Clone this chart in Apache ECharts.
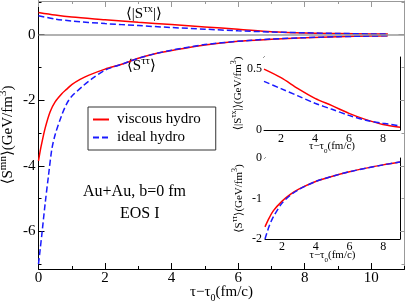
<!DOCTYPE html>
<html><head><meta charset="utf-8">
<script src="https://cdn.jsdelivr.net/npm/echarts@6/dist/echarts.min.js"></script>
<style>html,body{margin:0;padding:0;background:#fff}#c{width:407px;height:304px}</style>
</head><body><div id="c"></div>
<script>
// ---- data ----
const mainSttViscT = [0, 0.05, 0.1, 0.2, 0.35, 0.5, 0.7, 0.85, 1.0, 1.25, 1.5, 2.0, 2.5, 3.0, 3.5, 4, 5, 6, 7, 8, 9, 10, 10.5];
const mainSttVisc  = [-3.85, -3.55, -3.3, -2.85, -2.35, -2.05, -1.8, -1.66, -1.52, -1.36, -1.24, -1.05, -0.9, -0.72, -0.58, -0.48, -0.31, -0.2, -0.14, -0.09, -0.06, -0.04, -0.03];
const mainSttIdealT = [0, 0.05, 0.1, 0.2, 0.3, 0.4, 0.5, 0.7, 0.85, 1.0, 1.35, 1.6, 2.0, 2.5, 3.0, 3.5, 4, 5, 6, 7, 8, 9, 10, 10.5];
const mainSttIdeal  = [-7.0, -6.55, -6.1, -5.15, -4.3, -3.5, -3.05, -2.45, -2.1, -1.88, -1.55, -1.35, -1.08, -0.9, -0.72, -0.58, -0.47, -0.3, -0.2, -0.13, -0.09, -0.06, -0.04, -0.03];
const mainStxT = [0, 0.5, 1, 2, 3, 4, 5, 6, 7, 8, 9, 10, 10.5];
const mainStxVisc  = [0.68, 0.6, 0.54, 0.46, 0.38, 0.31, 0.24, 0.17, 0.09, 0.05, 0.035, 0.025, 0.02];
const mainStxIdeal = [0.58, 0.48, 0.42, 0.34, 0.28, 0.22, 0.17, 0.12, 0.085, 0.06, 0.04, 0.025, 0.02];

const inset1T = [1, 2, 3, 4, 5, 6, 7, 8, 9];
const inset1Visc  = [0.5, 0.43, 0.34, 0.26, 0.2, 0.137, 0.085, 0.045, 0.022];
const inset1Ideal = [0.4, 0.34, 0.28, 0.22, 0.17, 0.12, 0.08, 0.055, 0.035];

const inset2T = [1, 1.25, 1.5, 2, 2.5, 3, 4, 5, 6, 7, 8, 9];
const inset2Visc  = [-1.7, -1.48, -1.3, -1.07, -0.9, -0.77, -0.58, -0.45, -0.34, -0.25, -0.17, -0.1];
const inset2Ideal = [-2.0, -1.68, -1.45, -1.12, -0.92, -0.78, -0.58, -0.45, -0.34, -0.25, -0.17, -0.1];

const mainXTicks = [0, 2, 4, 6, 8, 10];
const mainXMinor = [1, 3, 5, 7, 9, 11];
const mainYTicks = [-6, -4, -2, 0];
const mainYMinor = [-7, -5, -3, -1, 1];
const insetXTicks = [2, 4, 6, 8];
const insetXMinor = [1, 3, 5, 7, 9];
const inset1YTicks = [0, 0.5];
const inset1YMinor = [0.1, 0.2, 0.3, 0.4];
const inset2YTicks = [-2, -1, 0];
const inset2YMinor = [-1.667, -1.333, -0.667, -0.333];

const seriesNames = ['viscous hydro', 'ideal hydro'];
// ---------------------------------------

const FF = '"Liberation Serif", "DejaVu Serif", serif';
const pairs = (t, v) => t.map((x, i) => [x, v[i]]);
const richT = (fs) => ({
  t: {fontSize: fs, fontFamily: FF, color: '#000', lineHeight: fs + 6},
  sup: {fontSize: Math.round(fs * 0.72), fontFamily: FF, color: '#000', lineHeight: Math.round(fs * 0.72), verticalAlign: 'top'},
  sub: {fontSize: Math.round(fs * 0.68), fontFamily: FF, color: '#000', lineHeight: Math.round(fs * 0.68), verticalAlign: 'bottom'}
});
const xName = '{t|τ−τ}{sub|0}{t|(fm/c)}';

const xAxes = [], yAxes = [];
function addAxes(list, dim, grid, min, max, major, minor, o) {
  const first = list.length;
  const posA = dim === 'x' ? 'bottom' : 'left';
  const posB = dim === 'x' ? 'top' : 'right';
  const base = {type: 'value', gridIndex: grid, min: min, max: max, splitLine: {show: false}};
  list.push(Object.assign({}, base, {
    position: posA,
    axisLine: {show: true, onZero: false, lineStyle: {color: o.colA, width: 1}},
    axisTick: {show: true, inside: true, length: o.majLen, customValues: major, lineStyle: {color: o.colA}},
    axisLabel: {show: true, customValues: major, margin: o.margin, fontSize: o.fs, fontFamily: FF, color: '#000',
      formatter: v => String(v)},
    name: o.name || '', nameLocation: 'middle', nameGap: o.nameGap || 0, nameMoveOverlap: false,
    nameTextStyle: {rich: richT(o.nameFs || o.fs)}
  }));
  list.push(Object.assign({}, base, {
    position: posA,
    axisLine: {show: false, onZero: false},
    axisTick: {show: true, inside: true, length: o.minLen, customValues: minor, lineStyle: {color: o.colA}},
    axisLabel: {show: false}
  }));
  list.push(Object.assign({}, base, {
    position: posB,
    axisLine: {show: true, onZero: false, lineStyle: {color: o.colB, width: 1}},
    axisTick: {show: true, inside: true, length: o.majLen, customValues: major, lineStyle: {color: o.colB}},
    axisLabel: {show: false}
  }));
  list.push(Object.assign({}, base, {
    position: posB,
    axisLine: {show: false, onZero: false},
    axisTick: {show: true, inside: true, length: o.minLen, customValues: minor, lineStyle: {color: o.colB}},
    axisLabel: {show: false}
  }));
  return first;
}

// main
const mX = addAxes(xAxes, 'x', 0, 0, 11, mainXTicks, mainXMinor,
  {colA: '#000', colB: '#999', majLen: 6, minLen: 3, fs: 15, margin: 2, name: xName, nameGap: 13});
const mY = addAxes(yAxes, 'y', 0, -7.15, 1.03, mainYTicks, mainYMinor,
  {colA: '#000', colB: '#999', majLen: 6, minLen: 3, fs: 15, margin: 3,
   name: '{t|⟨S}{sup|mn}{t|⟩(GeV/fm}{sup|3}{t|)}', nameGap: 20});
// inset 1
const i1X = addAxes(xAxes, 'x', 1, 1, 9, insetXTicks, insetXMinor,
  {colA: '#000', colB: '#000', majLen: 4, minLen: 2, fs: 12, margin: 3, name: xName, nameGap: 8, nameFs: 11});
const i1Y = addAxes(yAxes, 'y', 1, 0, 0.6, inset1YTicks, inset1YMinor,
  {colA: '#000', colB: '#000', majLen: 4, minLen: 2, fs: 12, margin: 2,
   name: '{t|⟨|S}{sup|τx}{t||⟩(GeV/fm}{sup|3}{t|)}', nameGap: 17, nameFs: 11});
// inset 2
const i2X = addAxes(xAxes, 'x', 2, 1, 9, insetXTicks, insetXMinor,
  {colA: '#000', colB: '#000', majLen: 4, minLen: 2, fs: 12, margin: 2, name: xName, nameGap: 8, nameFs: 11});
const i2Y = addAxes(yAxes, 'y', 2, -2, 0, inset2YTicks, inset2YMinor,
  {colA: '#000', colB: '#000', majLen: 4, minLen: 2, fs: 12, margin: 3,
   name: '{t|⟨S}{sup|ττ}{t|⟩(GeV/fm}{sup|3}{t|)}', nameGap: 17, nameFs: 11});

const RED = '#ff0000', BLUE = '#1a1aff';
function line(name, data, xi, yi, dashed, extra) {
  return Object.assign({
    type: 'line', name: name, data: data, xAxisIndex: xi, yAxisIndex: yi,
    symbol: 'none', showSymbol: false, smooth: 0.3, animation: false, silent: true,
    lineStyle: {color: dashed ? BLUE : RED, width: 1.5, type: dashed ? [6, 3] : 'solid'},
    itemStyle: {color: dashed ? BLUE : RED}
  }, extra || {});
}

const gridBase = {outerBoundsMode: 'none', containLabel: false};
const option = {
  animation: false,
  grid: [
    Object.assign({left: 38.5, right: 2.5, top: 1, bottom: 35}, gridBase),
    Object.assign({left: 264, right: 7, top: 57, bottom: 174, show: true, backgroundColor: '#fff', borderWidth: 0, z: 5}, gridBase),
    Object.assign({left: 265, right: 7, top: 158, bottom: 65, show: true, backgroundColor: '#fff', borderWidth: 0, z: 5}, gridBase)
  ],
  xAxis: xAxes,
  yAxis: yAxes,
  legend: {
    data: seriesNames, orient: 'vertical', left: 88, top: 107,
    itemWidth: 16, itemHeight: 14, itemGap: 3, padding: [5, 15, 5, 4],
    borderColor: '#333', borderWidth: 1, borderRadius: 0, backgroundColor: '#fff',
    itemStyle: {opacity: 0, borderWidth: 0},
    textStyle: {fontSize: 15, fontFamily: FF, color: '#000', padding: [0, 0, 0, 3]},
    selectedMode: false
  },
  graphic: [
    {type: 'text', left: 126, top: 4, style: {rich: richT(15), text: '{t|⟨|S}{sup|τx}{t||⟩}'}},
    {type: 'text', left: 127, top: 56, style: {rich: richT(15), text: '{t|⟨S}{sup|ττ}{t|⟩}'}},
    {type: 'text', left: 83, top: 184, style: {text: 'Au+Au, b=0 fm', font: '16px "Liberation Serif"', fill: '#000'}},
    {type: 'text', left: 120, top: 206, style: {text: 'EOS I', font: '16px "Liberation Serif"', fill: '#000'}}
  ],
  series: [
    line(seriesNames[0], pairs(mainStxT, mainStxVisc), mX, mY, false, {
      markLine: {silent: true, symbol: 'none', label: {show: false}, animation: false,
        lineStyle: {color: '#999', width: 1.5, type: 'solid'}, data: [{yAxis: 0}]}
    }),
    line(seriesNames[1], pairs(mainStxT, mainStxIdeal), mX, mY, true),
    line(seriesNames[0], pairs(mainSttViscT, mainSttVisc), mX, mY, false),
    line(seriesNames[1], pairs(mainSttIdealT, mainSttIdeal), mX, mY, true),
    line(seriesNames[0], pairs(inset1T, inset1Visc), i1X, i1Y, false, {z: 6}),
    line(seriesNames[1], pairs(inset1T, inset1Ideal), i1X, i1Y, true, {z: 6}),
    line(seriesNames[0], pairs(inset2T, inset2Visc), i2X, i2Y, false, {z: 6}),
    line(seriesNames[1], pairs(inset2T, inset2Ideal), i2X, i2Y, true, {z: 6})
  ]
};
const chart = echarts.init(document.getElementById('c'), null, {renderer: 'canvas'});
chart.setOption(option);
</script></body></html>
